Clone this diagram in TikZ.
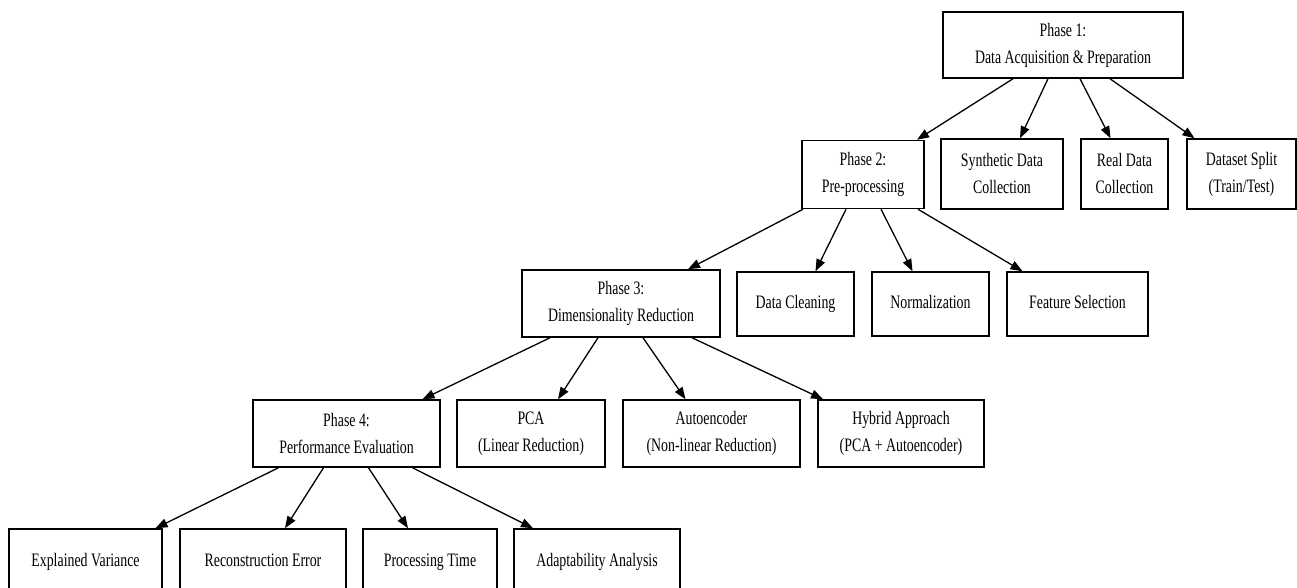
\documentclass[tikz,border=0pt]{standalone}
\usepackage{fontspec}
\setmainfont[FakeStretch=0.73]{Liberation Serif}
\usetikzlibrary{arrows.meta}

\begin{document}
\begin{tikzpicture}[x=1pt, y=-1pt,
    box/.style={rectangle, draw, line width=1.5pt, align=center, inner sep=0pt,
      font=\fontsize{19}{27}\selectfont},
    oneline/.style={box, text height=13.5pt, text depth=4.5pt},
    arr/.style={-{Triangle[length=12pt,width=9pt]}, line width=1.3pt}]
      \useasboundingbox (0,0) rectangle (1297,588);

      % phase 1
      \node[box, minimum width=240, minimum height=66] (p1) at (1063,45) {Phase 1:\\Data Acquisition \& Preparation};
      \node[box, minimum width=122, minimum height=68] (p2) at (863,174.5) {Phase 2:\\Pre-processing};
      \node[box, minimum width=122, minimum height=70] (synth) at (1002,174) {Synthetic Data\\Collection};
      \node[box, minimum width=87, minimum height=70] (real) at (1124.5,174) {Real Data\\Collection};
      \node[box, minimum width=109, minimum height=70] (split) at (1241.5,174) {Dataset Split\\(Train/Test)};

      % phase 2
      \node[box, minimum width=198, minimum height=67] (p3) at (621,303.5) {Phase 3:\\Dimensionality Reduction};
      \node[oneline, minimum width=117, minimum height=64] (clean) at (795.5,304) {Data Cleaning};
      \node[oneline, minimum width=117, minimum height=64] (norm) at (930.5,304) {Normalization};
      \node[oneline, minimum width=141, minimum height=64] (feat) at (1077.5,304) {Feature Selection};

      % phase 3
      \node[box, minimum width=187, minimum height=67] (p4) at (346.5,433.5) {Phase 4:\\Performance Evaluation};
      \node[box, minimum width=148, minimum height=67] (pca) at (531,433.5) {PCA\\(Linear Reduction)};
      \node[box, minimum width=177, minimum height=67] (auto) at (711.5,433.5) {Autoencoder\\(Non-linear Reduction)};
      \node[box, minimum width=166, minimum height=67] (hybrid) at (901,433.5) {Hybrid Approach\\(PCA + Autoencoder)};

      % phase 4
      \node[oneline, minimum width=153, minimum height=66] (ev) at (85.5,562) {Explained Variance};
      \node[oneline, minimum width=166, minimum height=66] (re) at (263,562) {Reconstruction Error};
      \node[oneline, minimum width=134, minimum height=66] (pt) at (430,562) {Processing Time};
      \node[oneline, minimum width=166, minimum height=66] (aa) at (597,562) {Adaptability Analysis};

      \draw[arr] ([xshift=-50pt]p1.south) -- ([xshift=54pt]p2.north);
      \draw[arr] ([xshift=-15pt]p1.south) -- ([xshift=18pt]synth.north);
      \draw[arr] ([xshift=17pt]p1.south) -- ([xshift=-14pt]real.north);
      \draw[arr] ([xshift=47pt]p1.south) -- ([xshift=-47pt]split.north);

      \draw[arr] ([xshift=-60pt]p2.south) -- ([xshift=67pt]p3.north);
      \draw[arr] ([xshift=-17pt]p2.south) -- ([xshift=20pt]clean.north);
      \draw[arr] ([xshift=18pt]p2.south) -- ([xshift=-18pt]norm.north);
      \draw[arr] ([xshift=55pt]p2.south) -- ([xshift=-55pt]feat.north);

      \draw[arr] ([xshift=-71pt]p3.south) -- ([xshift=76pt]p4.north);
      \draw[arr] ([xshift=-23pt]p3.south) -- ([xshift=27pt]pca.north);
      \draw[arr] ([xshift=22pt]p3.south) -- ([xshift=-26pt]auto.north);
      \draw[arr] ([xshift=71pt]p3.south) -- ([xshift=-78pt]hybrid.north);

      \draw[arr] ([xshift=-68pt]p4.south) -- ([xshift=70pt]ev.north);
      \draw[arr] ([xshift=-23pt]p4.south) -- ([xshift=22pt]re.north);
      \draw[arr] ([xshift=22pt]p4.south) -- ([xshift=-22pt]pt.north);
      \draw[arr] ([xshift=66pt]p4.south) -- ([xshift=-64pt]aa.north);
    \end{tikzpicture}
\end{document}
